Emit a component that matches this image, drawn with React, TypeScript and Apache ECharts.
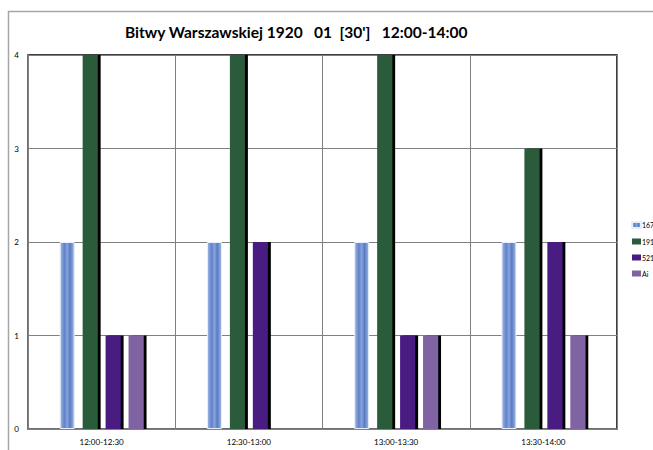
import React, { useEffect, useRef } from "react";
import * as echarts from "echarts";

const categories = ["12:00-12:30", "12:30-13:00", "13:00-13:30", "13:30-14:00"];
const seriesNames = ["167", "191", "521", "Ai"];
const s167 = [2, 2, 2, 2];
const s191 = [4, 4, 4, 3];
const s521 = [1, 2, 1, 2];
const sAi = [1, 0, 1, 1];
const yTicks = [0, 1, 2, 3, 4];
const titleText = "Bitwy Warszawskiej 1920   01  [30']   12:00-14:00";

export default function App() {
  const ref = useRef<HTMLDivElement>(null);
  useEffect(() => {
    document.body.style.margin = "0";
    const chart = echarts.init(ref.current!, null, { renderer: "svg" });
    const font = "Lato, 'Open Sans', sans-serif";
    const mk = (name: string, data: number[], color: any, extra: any = {}) => ({
      name,
      type: "bar",
      data: data.map((v) => (v === 0 ? "-" : v)),
      barWidth: 15,
      barGap: "53%",
      itemStyle: { color, ...extra },
    });
    chart.setOption({
      animation: false,
      backgroundColor: "#fff",
      textStyle: { fontFamily: font },
      title: {
        text: titleText,
        left: 120,
        top: 19,
        textStyle: { fontSize: 15.5, fontWeight: "bold", color: "#000", fontFamily: font },
      },
      legend: {
        orient: "vertical",
        left: 626,
        top: 216,
        itemWidth: 9,
        itemHeight: 6,
        itemGap: 9,
        icon: "rect",
        textStyle: { fontSize: 7, color: "#000", padding: [0, 0, 0, -4] },
        data: seriesNames,
      },
      graphic: [
        {
          type: "polyline",
          shape: { points: [[8.5, 460], [8.5, 11.5], [660, 11.5]] },
          style: { stroke: "#a6a6a6", lineWidth: 1.5, fill: "none" },
          silent: true,
        },
      ],
      grid: {
        left: 28,
        right: 36,
        top: 55,
        bottom: 21,
        show: true,
        borderColor: "#000",
        borderWidth: 1.5,
        backgroundColor: "transparent",
      },
      xAxis: {
        type: "category",
        data: categories,
        axisLine: { lineStyle: { color: "#808080", width: 1.5 } },
        axisTick: { show: false },
        axisLabel: { fontSize: 8, color: "#000", margin: 9, fontFamily: font },
        splitLine: { show: true, lineStyle: { color: "#808080", width: 1 } },
      },
      yAxis: {
        type: "value",
        min: 0,
        max: 4,
        interval: 1,
        axisLine: { show: true, lineStyle: { color: "#808080", width: 1.5 } },
        axisTick: { show: false },
        axisLabel: {
          fontSize: 8,
          color: "#000",
          margin: 9,
          fontFamily: font,
          formatter: (v: number) => (yTicks.includes(v) ? String(v) : ""),
        },
        splitLine: { lineStyle: { color: "#808080", width: 1 } },
      },
      series: [
        mk(seriesNames[0], s167, {
          type: "linear", x: 0, y: 0, x2: 1, y2: 0,
          colorStops: [
            { offset: 0, color: "#9db7e8" },
            { offset: 0.3, color: "#6282c6" },
            { offset: 0.5, color: "#86a4e2" },
            { offset: 0.7, color: "#5a7bc0" },
            { offset: 1, color: "#9db7e8" },
          ],
        }, { borderColor: "#e8eefa", borderWidth: 1 }),
        mk(seriesNames[1], s191, "#2c5b3b", {
          shadowColor: "#000", shadowOffsetX: 3, shadowBlur: 0,
        }),
        mk(seriesNames[2], s521, "#4a1a82", {
          shadowColor: "#000", shadowOffsetX: 3, shadowBlur: 0,
        }),
        mk(seriesNames[3], sAi, "#8064a2", {
          shadowColor: "#000", shadowOffsetX: 3, shadowBlur: 0,
        }),
      ],
    });
    return () => chart.dispose();
  }, []);
  return <div ref={ref} style={{ width: 653, height: 450 }} />;
}
